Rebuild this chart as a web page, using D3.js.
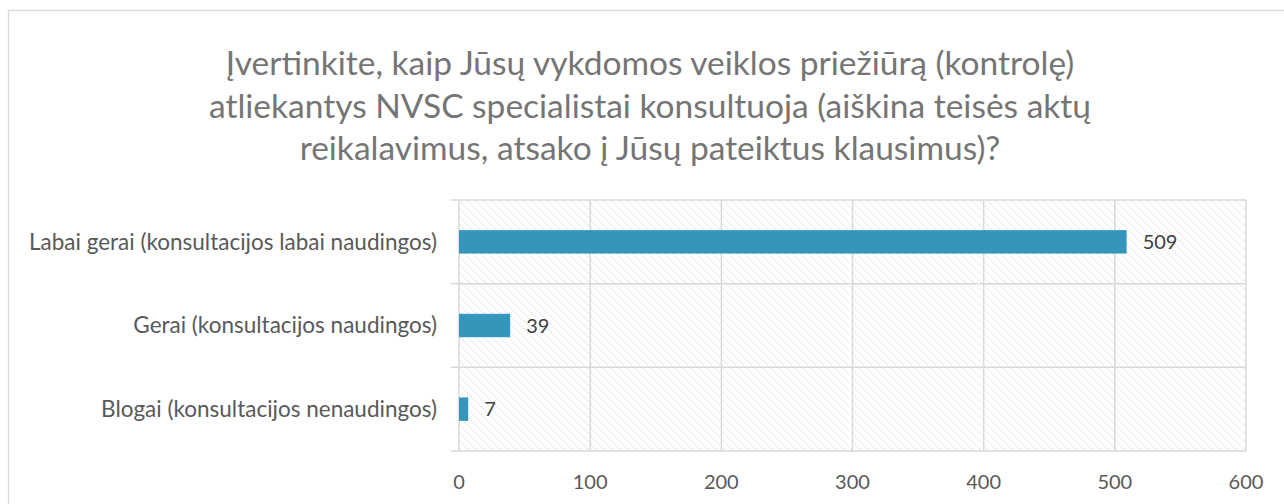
<!DOCTYPE html>
<html>
<head>
<meta charset="utf-8">
<script src="https://cdn.jsdelivr.net/npm/d3@7"></script>
<style>
  body { margin: 0; background: #fff; }
  svg text { font-family: Lato, "Open Sans", sans-serif; }
</style>
</head>
<body>
<div id="chart"></div>
<script>
var titleLines = ["Įvertinkite, kaip Jūsų vykdomos veiklos priežiūrą (kontrolę)",
                  "atliekantys NVSC specialistai konsultuoja (aiškina teisės aktų",
                  "reikalavimus, atsako į Jūsų pateiktus klausimus)?"];
var categories = ["Labai gerai (konsultacijos labai naudingos)",
                  "Gerai (konsultacijos naudingos)",
                  "Blogai (konsultacijos nenaudingos)"];
var values = [509, 39, 7];
var xTicks = [0, 100, 200, 300, 400, 500, 600];

function drawChart(){
  var W = 1284, H = 504;
  var margin = {top: 200, right: 38, bottom: 53, left: 459};
  var width = W - margin.left - margin.right,
      height = H - margin.top - margin.bottom;

  var svg = d3.select("#chart").append("svg")
      .attr("width", W)
      .attr("height", H);

  // hatch pattern for plot background
  var pat = svg.append("defs").append("pattern")
      .attr("id", "hatch")
      .attr("patternUnits", "userSpaceOnUse")
      .attr("width", 8).attr("height", 8);
  pat.append("path")
      .attr("d", "M-2,-2L10,10M-2,6L2,10M6,-2L10,2")
      .attr("stroke", "#dcdcdc")
      .attr("stroke-width", 1.2)
      .attr("stroke-dasharray", "1.4,1.4");

  // chart border (runs off the right and bottom)
  svg.append("rect")
      .attr("x", 8.5).attr("y", 10.5)
      .attr("width", W + 10).attr("height", H + 10)
      .attr("fill", "none")
      .attr("stroke", "#d9d9d9")
      .attr("stroke-width", 1.3);

  var title = svg.append("text")
      .attr("text-anchor", "middle")
      .attr("fill", "#757575")
      .attr("font-size", 33.5);
  titleLines.forEach(function(t, i){
    title.append("tspan")
        .attr("x", 650)
        .attr("y", 75 + i*42.5)
        .text(t);
  });

  var g = svg.append("g")
      .attr("transform", "translate(" + margin.left + "," + margin.top + ")");

  var x = d3.scaleLinear().domain([0, 600]).range([0, width]);
  var y = d3.scaleBand().domain(categories).range([0, height]).paddingInner(0).paddingOuter(0);

  g.append("rect")
      .attr("width", width).attr("height", height)
      .attr("fill", "url(#hatch)");

  // vertical gridlines
  g.selectAll(".vgrid").data(xTicks).enter().append("line")
      .attr("x1", function(d){ return x(d); })
      .attr("x2", function(d){ return x(d); })
      .attr("y1", 0).attr("y2", height)
      .attr("stroke", "#d9d9d9").attr("stroke-width", 1.5);

  // category boundaries with ticks to the left
  var bounds = categories.map(function(c){ return y(c); }).concat([height]);
  g.selectAll(".hgrid").data(bounds).enter().append("line")
      .attr("x1", -8).attr("x2", width)
      .attr("y1", function(d){ return d; })
      .attr("y2", function(d){ return d; })
      .attr("stroke", "#d9d9d9").attr("stroke-width", 1.5);

  var barH = y.bandwidth()*0.28;
  g.selectAll(".bar").data(values).enter().append("rect")
      .attr("x", x(0))
      .attr("y", function(d, i){ return y(categories[i]) + (y.bandwidth()-barH)/2; })
      .attr("width", function(d){ return x(d) - x(0); })
      .attr("height", barH)
      .attr("fill", "#3596bb");

  g.selectAll(".val").data(values).enter().append("text")
      .attr("x", function(d){ return x(d) + 16; })
      .attr("y", function(d, i){ return y(categories[i]) + y.bandwidth()/2; })
      .attr("dy", "0.35em")
      .attr("fill", "#404040")
      .attr("font-size", 20)
      .text(function(d){ return d; });

  g.selectAll(".cat").data(categories).enter().append("text")
      .attr("x", -22)
      .attr("y", function(d){ return y(d) + y.bandwidth()/2; })
      .attr("dy", "0.35em")
      .attr("text-anchor", "end")
      .attr("fill", "#595959")
      .attr("font-size", 22.5)
      .text(function(d){ return d; });

  g.selectAll(".xt").data(xTicks).enter().append("text")
      .attr("x", function(d){ return x(d); })
      .attr("y", height + 31)
      .attr("dy", "0.35em")
      .attr("text-anchor", "middle")
      .attr("fill", "#595959")
      .attr("font-size", 20)
      .text(function(d){ return d; });
}

drawChart();
</script>
</body>
</html>
